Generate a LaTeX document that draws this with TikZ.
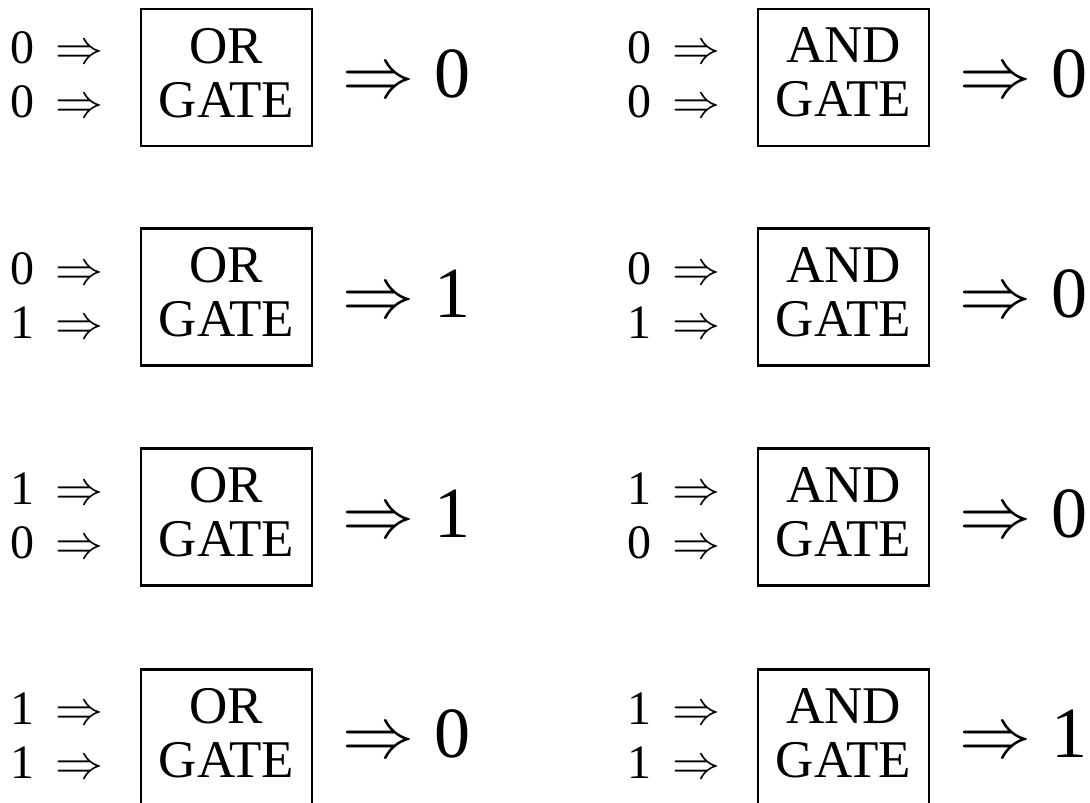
\RequirePackage{fix-cm}
\documentclass[tikz,border=0pt]{standalone}
\usepackage{fontspec}
\setmainfont{Liberation Serif}

\begin{document}
\begin{tikzpicture}[x=1pt,y=-1pt]
        % Define styles
        \tikzset{
            gate/.style={rectangle, draw, line width=2.4pt, minimum width=171pt, minimum height=137pt, inner sep=0pt, align=center, text depth=10pt, font=\fontsize{53}{54}\selectfont},
            inputs/.style={inner sep=0pt, align=left, anchor=west, font=\fontsize{48}{54}\selectfont},
            output/.style={inner sep=0pt, anchor=base west, font=\fontsize{72}{74}\selectfont}
        }
        \clip (0,0) rectangle (1090,803);

        % OR gates
        \node[inputs] (or_in_1) at (10,74.5) {0\hspace{0.45em}$\Rightarrow$\\0\hspace{0.45em}$\Rightarrow$};
        \node[gate] (or_gate_1) at (226.5,77.5) {OR\\GATE};
        \node[output] (or_out_1) at (342,97) {$\Rightarrow$\hspace{0.28em}0};

        \node[inputs] (or_in_2) at (10,296) {0\hspace{0.45em}$\Rightarrow$\\1\hspace{0.45em}$\Rightarrow$};
        \node[gate] (or_gate_2) at (226.5,297) {OR\\GATE};
        \node[output] (or_out_2) at (342,317) {$\Rightarrow$\hspace{0.28em}1};

        \node[inputs] (or_in_3) at (10,516) {1\hspace{0.45em}$\Rightarrow$\\0\hspace{0.45em}$\Rightarrow$};
        \node[gate] (or_gate_3) at (226.5,517) {OR\\GATE};
        \node[output] (or_out_3) at (342,537) {$\Rightarrow$\hspace{0.28em}1};

        \node[inputs] (or_in_4) at (10,736) {1\hspace{0.45em}$\Rightarrow$\\1\hspace{0.45em}$\Rightarrow$};
        \node[gate] (or_gate_4) at (226.5,738) {OR\\GATE};
        \node[output] (or_out_4) at (342,757) {$\Rightarrow$\hspace{0.28em}0};

        % AND gates
        \node[inputs] (and_in_1) at (627,74.5) {0\hspace{0.45em}$\Rightarrow$\\0\hspace{0.45em}$\Rightarrow$};
        \node[gate] (and_gate_1) at (843.5,77.5) {AND\\GATE};
        \node[output] (and_out_1) at (959,97) {$\Rightarrow$\hspace{0.28em}0};

        \node[inputs] (and_in_2) at (627,296) {0\hspace{0.45em}$\Rightarrow$\\1\hspace{0.45em}$\Rightarrow$};
        \node[gate] (and_gate_2) at (843.5,297) {AND\\GATE};
        \node[output] (and_out_2) at (959,317) {$\Rightarrow$\hspace{0.28em}0};

        \node[inputs] (and_in_3) at (627,516) {1\hspace{0.45em}$\Rightarrow$\\0\hspace{0.45em}$\Rightarrow$};
        \node[gate] (and_gate_3) at (843.5,517) {AND\\GATE};
        \node[output] (and_out_3) at (959,537) {$\Rightarrow$\hspace{0.28em}0};

        \node[inputs] (and_in_4) at (627,736) {1\hspace{0.45em}$\Rightarrow$\\1\hspace{0.45em}$\Rightarrow$};
        \node[gate] (and_gate_4) at (843.5,738) {AND\\GATE};
        \node[output] (and_out_4) at (959,757) {$\Rightarrow$\hspace{0.28em}1};
\end{tikzpicture}
\end{document}
